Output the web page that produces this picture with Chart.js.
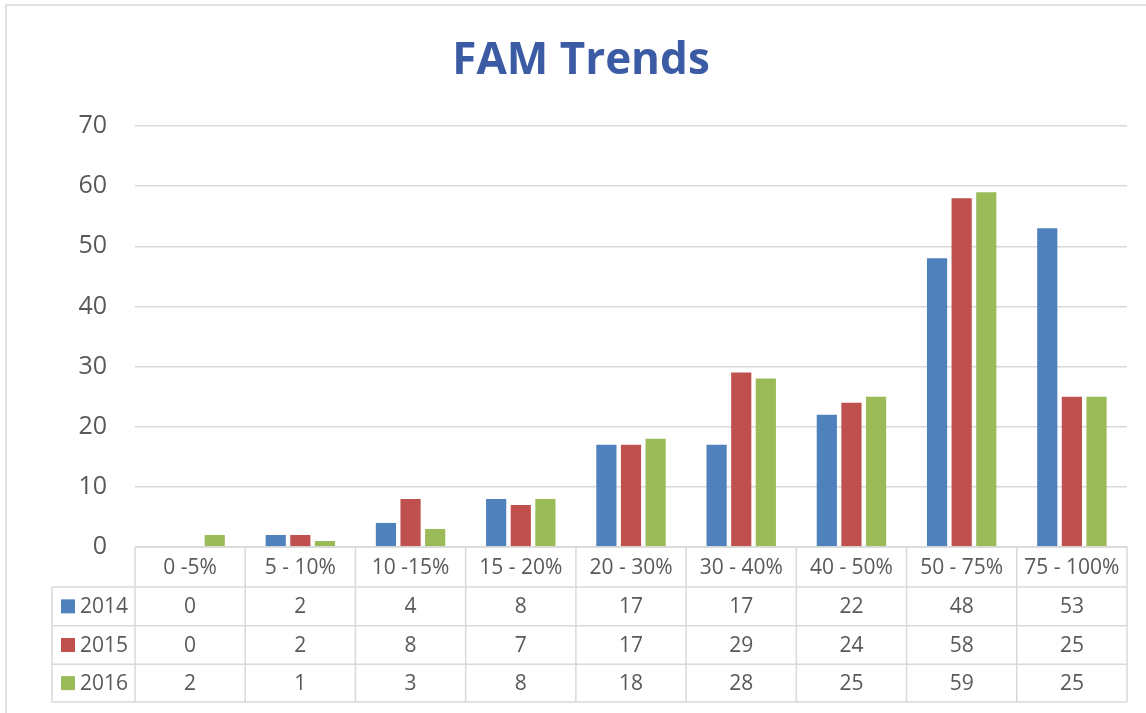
<!DOCTYPE html>
<html>
<head>
<meta charset="utf-8">
<script src="https://cdn.jsdelivr.net/npm/chart.js@4.4.1/dist/chart.umd.min.js"></script>
<style>
  html, body { margin: 0; padding: 0; background: #fff; }
  #wrap { width: 1146px; height: 713px; position: relative; }
</style>
</head>
<body>
<div id="wrap"><canvas id="c" width="1146" height="713"></canvas></div>
<script>
const chartTitle = 'FAM Trends';
const categories = ['0 -5%', '5 - 10%', '10 -15%', '15 - 20%', '20 - 30%', '30 - 40%', '40 - 50%', '50 - 75%', '75 - 100%'];
const seriesNames = ['2014', '2015', '2016'];
const values2014 = [0, 2, 4, 8, 17, 17, 22, 48, 53];
const values2015 = [0, 2, 8, 7, 17, 29, 24, 58, 25];
const values2016 = [2, 1, 3, 8, 18, 28, 25, 59, 25];
const seriesColors = ['#4F81BD', '#C0504D', '#9BBB59'];
const yTicks = [0, 10, 20, 30, 40, 50, 60, 70];

const TEXT = '#595959';
const LINE = '#D9D9D9';
const FONT = '"Open Sans", "Noto Sans", sans-serif';

const allSeries = [values2014, values2015, values2016];

const frameAndTable = {
  id: 'frameAndTable',
  beforeDraw(chart) {
    const ctx = chart.ctx;
    ctx.save();
    ctx.strokeStyle = LINE;
    ctx.lineWidth = 1.5;
    ctx.strokeRect(6, 5, 1400, 900);
    // title
    ctx.fillStyle = '#3B5BA5';
    ctx.font = 'bold 44px ' + FONT;
    ctx.textAlign = 'center';
    ctx.textBaseline = 'alphabetic';
    ctx.fillText(chartTitle, 581, 74);
    ctx.restore();
  },
  afterDraw(chart) {
    const ctx = chart.ctx;
    const x = chart.scales.x;
    const area = chart.chartArea;
    const left = area.left, right = area.right;
    const n = categories.length;
    const top = area.bottom;
    const rowYs = [top, top + 40, top + 78.7, top + 117.3, top + 155];
    const legendLeft = 52;
    const bounds = [];
    for (let i = 0; i <= n; i++) {
      if (i === 0) bounds.push(left);
      else if (i === n) bounds.push(right);
      else bounds.push((x.getPixelForValue(i - 1) + x.getPixelForValue(i)) / 2);
    }
    ctx.save();
    ctx.strokeStyle = LINE;
    ctx.lineWidth = 1.5;
    ctx.beginPath();
    ctx.moveTo(left, rowYs[0]); ctx.lineTo(right, rowYs[0]);
    for (let r = 1; r < rowYs.length; r++) {
      ctx.moveTo(legendLeft, rowYs[r]); ctx.lineTo(right, rowYs[r]);
    }
    for (let i = 0; i <= n; i++) {
      ctx.moveTo(bounds[i], rowYs[0]); ctx.lineTo(bounds[i], rowYs[4]);
    }
    ctx.moveTo(legendLeft, rowYs[1]); ctx.lineTo(legendLeft, rowYs[4]);
    ctx.stroke();

    ctx.fillStyle = TEXT;
    ctx.font = '21px ' + FONT;
    ctx.textAlign = 'center';
    ctx.textBaseline = 'middle';
    for (let i = 0; i < n; i++) {
      const cx = x.getPixelForValue(i);
      ctx.fillText(categories[i], cx, (rowYs[0] + rowYs[1]) / 2 + 1);
      for (let s = 0; s < allSeries.length; s++) {
        ctx.fillText(String(allSeries[s][i]), cx, (rowYs[s + 1] + rowYs[s + 2]) / 2 + 1);
      }
    }
    ctx.textAlign = 'left';
    for (let s = 0; s < seriesNames.length; s++) {
      const cy = (rowYs[s + 1] + rowYs[s + 2]) / 2;
      ctx.fillStyle = seriesColors[s];
      ctx.fillRect(61, cy - 7, 14, 14);
      ctx.fillStyle = TEXT;
      ctx.fillText(seriesNames[s], 80, cy + 1);
    }
    ctx.restore();
  }
};

new Chart(document.getElementById('c'), {
  type: 'bar',
  data: {
    labels: categories,
    datasets: seriesNames.map((name, i) => ({
      label: name,
      data: allSeries[i],
      backgroundColor: seriesColors[i],
      borderWidth: 0,
      categoryPercentage: 0.67,
      barPercentage: 0.82
    }))
  },
  options: {
    responsive: false,
    animation: false,
    devicePixelRatio: 1,
    layout: { padding: { left: 0, right: 19, top: 126, bottom: 166 } },
    plugins: {
      legend: { display: false },
      tooltip: { enabled: false },
      title: { display: false }
    },
    scales: {
      x: {
        display: false,
        grid: { display: false }
      },
      y: {
        min: 0, max: 70,
        afterBuildTicks(scale) { scale.ticks = yTicks.map(v => ({ value: v })); },
        afterFit(scale) { scale.width = 135; },
        border: { display: false },
        grid: { color: LINE, lineWidth: 1.5, drawTicks: false },
        ticks: { color: TEXT, font: { family: FONT, size: 25 }, padding: 28 }
      }
    }
  },
  plugins: [frameAndTable]
});
</script>
</body>
</html>
